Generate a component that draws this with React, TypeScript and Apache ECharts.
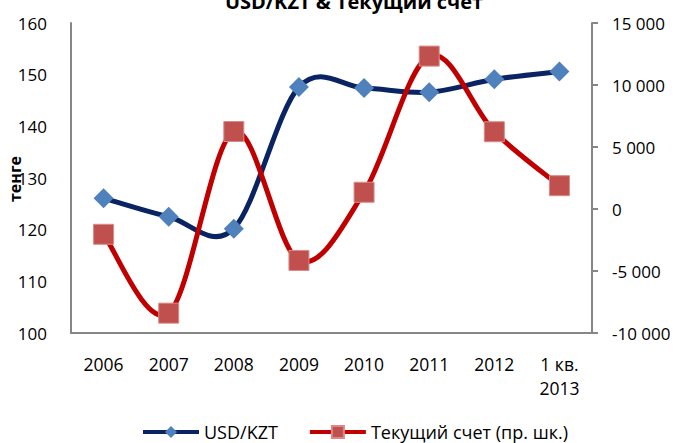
import React, { useEffect, useRef } from "react";
import * as echarts from "echarts";

const categories = ["2006", "2007", "2008", "2009", "2010", "2011", "2012", "1 кв.\n2013"];
const usdKzt = [126.1, 122.5, 120.2, 147.6, 147.4, 146.6, 149.1, 150.6];
const currentAccount = [-2040, -8400, 6250, -4150, 1350, 12330, 6230, 1880];
const leftTicks = { min: 100, max: 160, interval: 10 };
const rightTicks = { min: -10000, max: 15000, interval: 5000 };
const titleText = "USD/KZT & Текущий счет";
const yName = "тенге";
const seriesNames = ["USD/KZT", "Текущий счет (пр. шк.)"];

const FONT = "'Open Sans', 'Noto Sans', sans-serif";
const BLUE_LINE = "#0A2463";
const BLUE_MARK = "#4F81BD";
const RED_LINE = "#C00000";
const RED_MARK = "#C0504D";

function fmt(v: number) {
  const s = Math.abs(v).toString().replace(/\B(?=(\d{3})+(?!\d))/g, " ");
  return (v < 0 ? "-" : "") + s;
}

// Excel-like smoothed curve (Catmull-Rom -> cubic Bezier), points from the axes' scales
function curveSeries(values: number[], yAxisIndex: number, color: string, z: number) {
  return {
    type: "custom",
    yAxisIndex,
    silent: true,
    z,
    data: values.map((v, i) => [i, v]),
    renderItem: (params: any, api: any) => {
      if (params.dataIndex !== 0) return { type: "group", children: [] };
      const pts = values.map((v, i) => api.coord([i, v]));
      let d = `M${pts[0][0]} ${pts[0][1]}`;
      for (let i = 0; i < pts.length - 1; i++) {
        const p0 = pts[Math.max(0, i - 1)];
        const p1 = pts[i];
        const p2 = pts[i + 1];
        const p3 = pts[Math.min(pts.length - 1, i + 2)];
        const k = 1 / 6;
        const c1x = p1[0] + (p2[0] - p0[0]) * k;
        const c1y = p1[1] + (p2[1] - p0[1]) * k;
        const c2x = p2[0] - (p3[0] - p1[0]) * k;
        const c2y = p2[1] - (p3[1] - p1[1]) * k;
        d += ` C${c1x} ${c1y} ${c2x} ${c2y} ${p2[0]} ${p2[1]}`;
      }
      return {
        type: "path",
        shape: { pathData: d },
        style: { fill: "none", stroke: color, lineWidth: 5, lineJoin: "round", lineCap: "round" },
      };
    },
  };
}

export default function App() {
  const ref = useRef<HTMLDivElement>(null);
  useEffect(() => {
    if (!ref.current) return;
    const chart = echarts.init(ref.current, undefined, { renderer: "svg" });
    const axisColor = "#868686";
    chart.setOption({
      animation: false,
      textStyle: { fontFamily: FONT },
      graphic: [
        {
          type: "text",
          x: 354,
          y: 1,
          style: {
            text: titleText,
            font: `bold 20px ${FONT}`,
            fill: "#000",
            align: "center",
            verticalAlign: "middle",
          },
        },
        {
          type: "text",
          x: 15,
          y: 179,
          rotation: Math.PI / 2,
          style: {
            text: yName,
            font: `bold 16px ${FONT}`,
            fill: "#000",
            align: "center",
            verticalAlign: "middle",
          },
        },
      ],
      grid: { left: 71, right: 85, top: 23, bottom: 110 },
      legend: {
        bottom: -3,
        left: 136,
        itemWidth: 56,
        itemHeight: 15,
        itemGap: 30,
        textStyle: { fontSize: 18, color: "#000", fontFamily: FONT },
        data: [
          {
            name: seriesNames[0],
            lineStyle: { color: BLUE_LINE, width: 4, opacity: 1 },
            itemStyle: { color: BLUE_MARK },
          },
          {
            name: seriesNames[1],
            lineStyle: { color: RED_LINE, width: 4, opacity: 1 },
            itemStyle: { color: RED_MARK },
          },
        ],
      },
      xAxis: {
        type: "category",
        data: categories,
        boundaryGap: true,
        axisLine: { onZero: false, lineStyle: { color: axisColor, width: 2 } },
        axisTick: { show: false },
        axisLabel: { color: "#000", fontSize: 17.5, margin: 19, lineHeight: 24, fontFamily: FONT },
      },
      yAxis: [
        {
          type: "value",
          min: leftTicks.min,
          max: leftTicks.max,
          interval: leftTicks.interval,
          axisLine: { show: true, onZero: false, lineStyle: { color: axisColor, width: 2 } },
          axisTick: { show: false },
          splitLine: { show: false },
          axisLabel: { color: "#000", fontSize: 17, margin: 24, fontFamily: FONT },
        },
        {
          type: "value",
          position: "right",
          min: rightTicks.min,
          max: rightTicks.max,
          interval: rightTicks.interval,
          axisLine: { show: true, onZero: false, lineStyle: { color: axisColor, width: 2 } },
          axisTick: { show: true, length: 6, lineStyle: { color: axisColor, width: 2 } },
          splitLine: { show: false },
          axisLabel: { color: "#000", fontSize: 17, margin: 20, fontFamily: FONT, formatter: fmt },
        },
      ],
      series: [
        curveSeries(usdKzt, 0, BLUE_LINE, 2),
        curveSeries(currentAccount, 1, RED_LINE, 3),
        {
          name: seriesNames[0],
          type: "line",
          yAxisIndex: 0,
          data: usdKzt,
          symbol: "diamond",
          symbolSize: 20,
          lineStyle: { color: BLUE_LINE, width: 5, opacity: 0 },
          itemStyle: { color: BLUE_MARK },
          z: 4,
        },
        {
          name: seriesNames[1],
          type: "line",
          yAxisIndex: 1,
          data: currentAccount,
          symbol: "rect",
          symbolSize: 20,
          lineStyle: { color: RED_LINE, width: 5, opacity: 0 },
          itemStyle: { color: RED_MARK, borderColor: "#D98A88", borderWidth: 1 },
          z: 5,
        },
      ],
    });
    return () => chart.dispose();
  }, []);
  return <div ref={ref} style={{ width: 677, height: 443, position: "absolute", left: 0, top: 0 }} />;
}
